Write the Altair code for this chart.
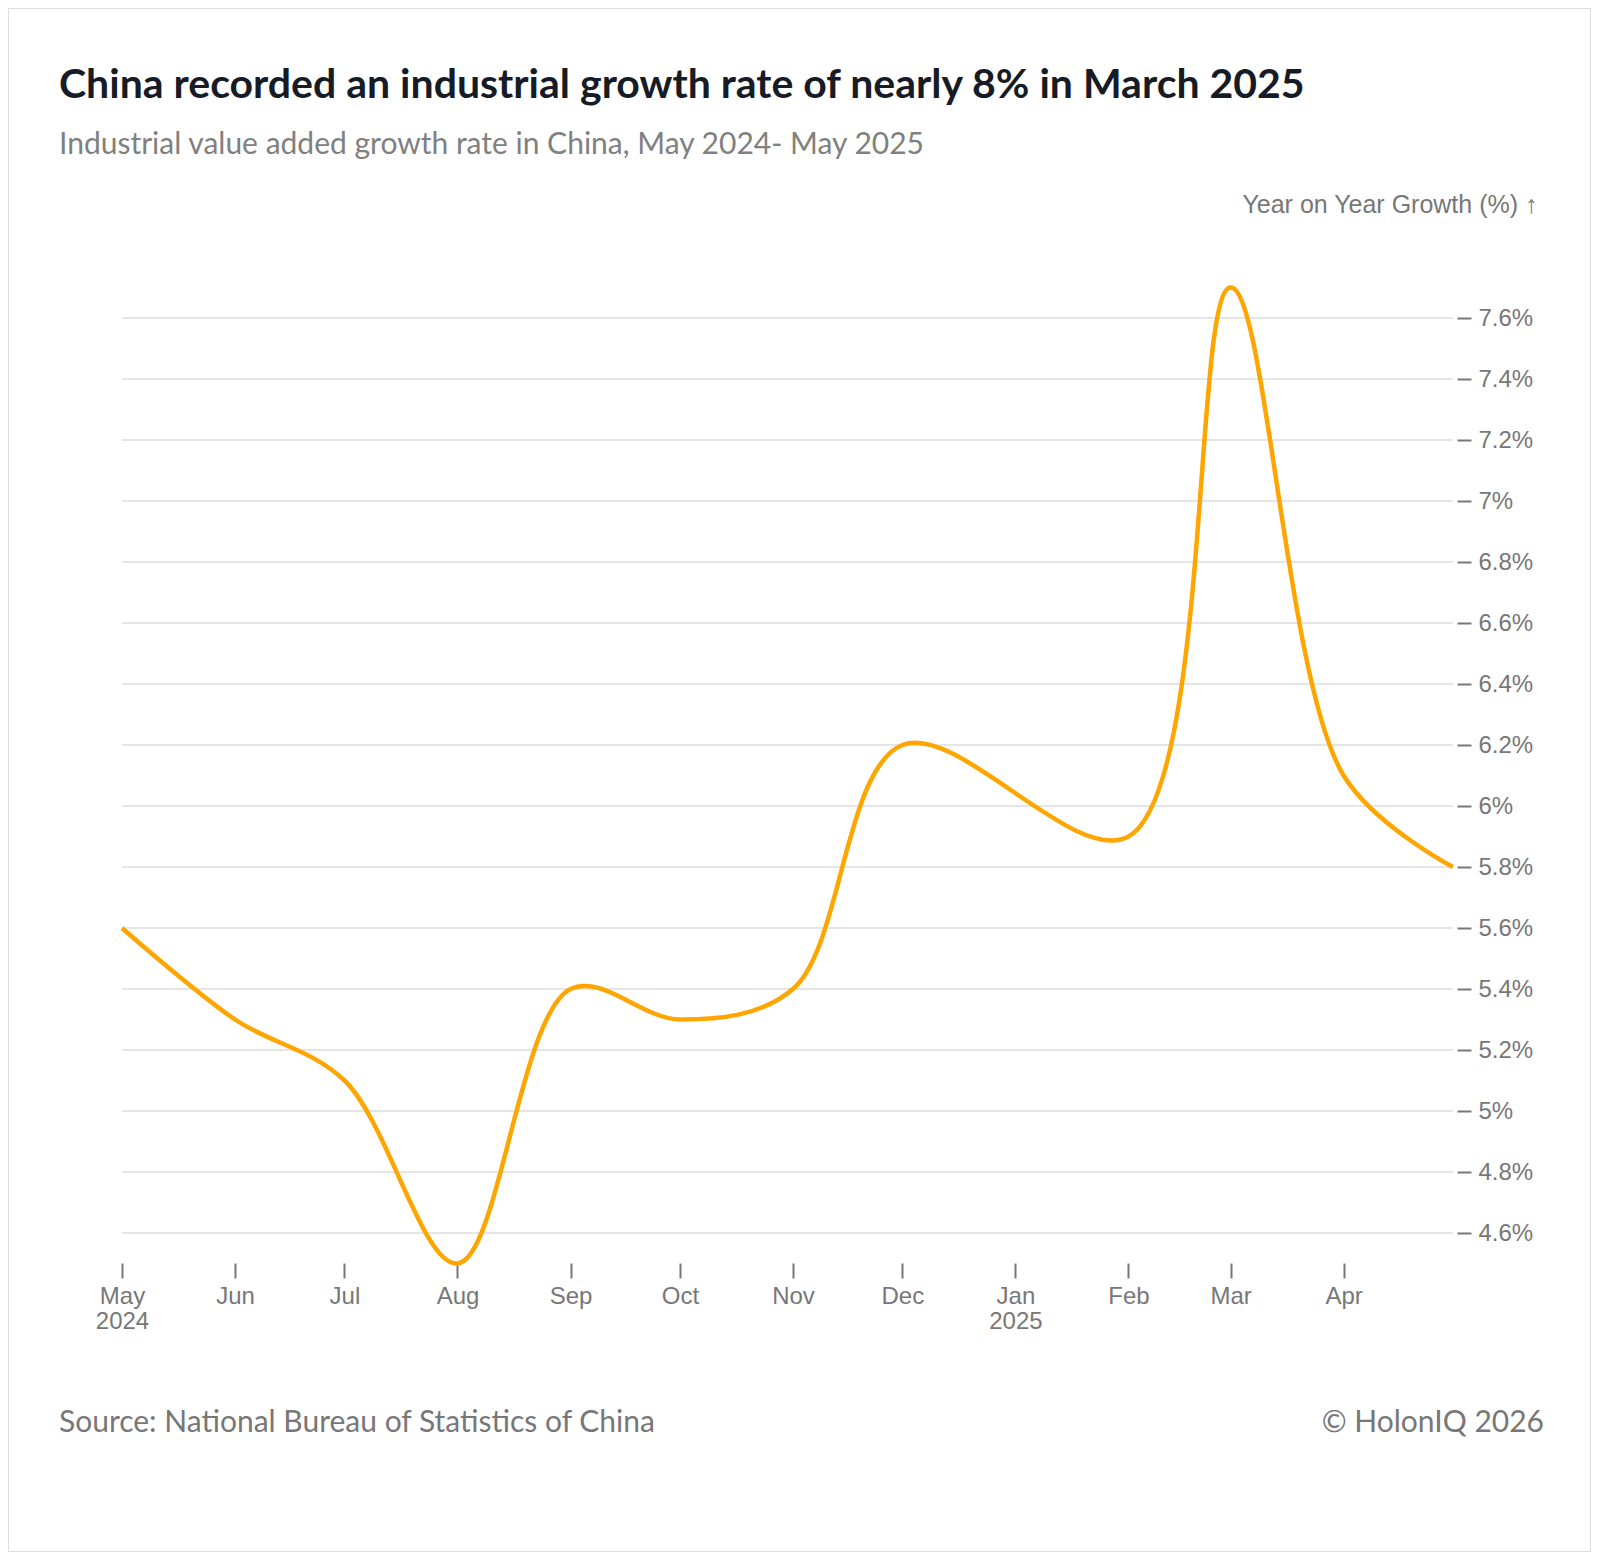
import altair as alt
import pandas as pd

# ---- data ----
months = ["2024-05-01", "2024-06-01", "2024-07-01", "2024-08-01", "2024-09-01",
          "2024-10-01", "2024-11-01", "2024-12-01", "2025-02-01", "2025-03-01",
          "2025-04-01", "2025-05-01"]
growth = [5.6, 5.3, 5.1, 4.5, 5.4, 5.3, 5.4, 6.2, 5.9, 7.7, 6.1, 5.8]

y_ticks = [4.6, 4.8, 5.0, 5.2, 5.4, 5.6, 5.8, 6.0, 6.2, 6.4, 6.6, 6.8, 7.0, 7.2, 7.4, 7.6]
x_tick_months = [(2024, 5), (2024, 6), (2024, 7), (2024, 8), (2024, 9), (2024, 10),
                 (2024, 11), (2024, 12), (2025, 1), (2025, 2), (2025, 3), (2025, 4)]

title_text = "China recorded an industrial growth rate of nearly 8% in March 2025"
subtitle_text = "Industrial value added growth rate in China, May 2024- May 2025"
y_title = "Year on Year Growth (%) ↑"
source_text = "Source: National Bureau of Statistics of China"
credit_text = "© HolonIQ 2026"

# ---- layout ----
W, H = 1582, 1543
X0, X1 = 114, 1445
Y_BOT, Y_TOP = 1255.5, 279.5
Y_AXIS_X = 1449
X_AXIS_Y = 1255

df = pd.DataFrame({"month": months, "growth": growth})
grid_df = pd.DataFrame({"growth": y_ticks})

AXIS_FONT = "Liberation Sans"
TEXT_FONT = "Lato"
GREY = "#777777"

x_scale = alt.Scale(
    type="utc",
    domain=[alt.DateTime(year=2024, month=5, date=1, utc=True),
            alt.DateTime(year=2025, month=5, date=1, utc=True)],
    range=[X0, X1],
)
y_scale = alt.Scale(domain=[4.5, 7.7], range=[Y_BOT, Y_TOP], nice=False, zero=False)

x_axis = alt.Axis(
    values=[alt.DateTime(year=y, month=m, date=1, utc=True) for y, m in x_tick_months],
    labelExpr="[utcFormat(datum.value, '%b'), (utcFormat(datum.value, '%m') == '01' || utcFormat(datum.value, '%Y-%m') == '2024-05') ? utcFormat(datum.value, '%Y') : '']",
    orient="bottom",
    offset=-(H - X_AXIS_Y),
    domain=False,
    grid=False,
    ticks=True,
    tickSize=15,
    tickWidth=2,
    tickColor=GREY,
    labelFont=AXIS_FONT,
    labelFontSize=24,
    labelColor=GREY,
    labelPadding=6,
    labelLineHeight=25,
    labelAngle=0,
    labelAlign="center",
    labelFlush=False,
    title=None,
)

y_axis = alt.Axis(
    values=y_ticks,
    labelExpr="format(datum.value, '.1~f') + '%'",
    orient="right",
    offset=-(W - Y_AXIS_X),
    domain=False,
    grid=False,
    ticks=True,
    tickSize=14,
    tickWidth=2,
    tickColor=GREY,
    labelFont=AXIS_FONT,
    labelFontSize=24,
    labelColor=GREY,
    labelPadding=7,
    labelBaseline="middle",
    labelFlush=False,
    title=y_title,
    titleFont=AXIS_FONT,
    titleFontSize=25,
    titleFontWeight="normal",
    titleColor=GREY,
    titleAngle=0,
    titleAlign="right",
    titleBaseline="alphabetic",
    titleX=1529 - Y_AXIS_X,
    titleY=204,
)

grid = alt.Chart(grid_df).mark_rule(color="#e5e5e5", strokeWidth=2).encode(
    y=alt.Y("growth:Q", scale=y_scale, axis=y_axis),
    x=alt.value(X0),
    x2=alt.value(X1),
)

line = alt.Chart(df).mark_line(
    color="#FFA500", strokeWidth=4.5, interpolate="catmull-rom"
).encode(
    x=alt.X("month:T", scale=x_scale, axis=x_axis),
    y=alt.Y("growth:Q", scale=y_scale, axis=y_axis),
)

source = alt.Chart(pd.DataFrame({"t": [source_text]})).mark_text(
    align="left", baseline="alphabetic", font=TEXT_FONT, fontSize=30, color=GREY
).encode(text="t:N", x=alt.value(51), y=alt.value(1424))

credit = alt.Chart(pd.DataFrame({"t": [credit_text]})).mark_text(
    align="right", baseline="alphabetic", font=TEXT_FONT, fontSize=30, color=GREY
).encode(text="t:N", x=alt.value(1536), y=alt.value(1424))

chart = alt.layer(grid, line, source, credit).properties(
    width=W,
    height=H,
    padding={"left": 0, "top": 0, "right": 2, "bottom": 2},
    autosize=alt.AutoSizeParams(type="none"),
    title=alt.TitleParams(
        text=title_text,
        subtitle=subtitle_text,
        anchor="start",
        frame="group",
        orient="top",
        offset=-153,
        dx=51,
        font=TEXT_FONT,
        fontSize=41,
        fontWeight="bold",
        color="#161b26",
        subtitleFont=TEXT_FONT,
        subtitleFontSize=30,
        subtitleColor="#808080",
        subtitlePadding=23,
    ),
).configure_view(stroke="#dddddd", strokeWidth=2).configure(background="white")

chart.save("out.html", embed_options={"renderer": "svg", "actions": False})
